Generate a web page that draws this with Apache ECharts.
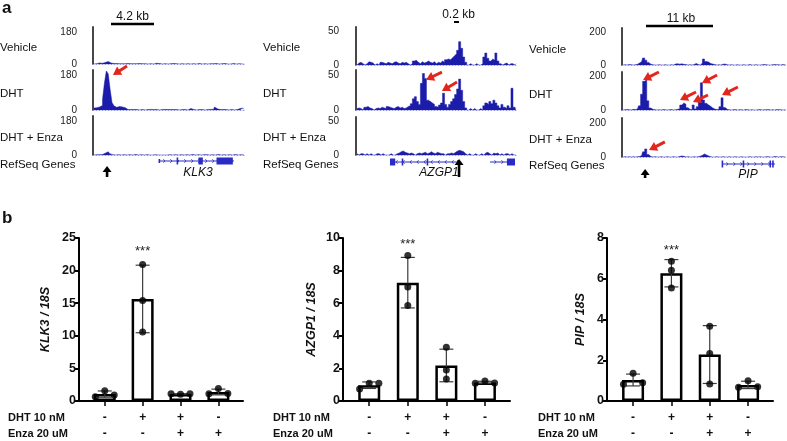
<!DOCTYPE html>
<html><head><meta charset="utf-8">
<script src="https://cdn.jsdelivr.net/npm/echarts@6/dist/echarts.min.js"></script>
<style>html,body{margin:0;padding:0;background:#fff}#c{width:787px;height:441px}</style>
</head><body><div id="c"></div>
<script>
// ---------------- DATA ----------------
// ChIP-seq coverage, 80 bins per locus (values in track units)
const klk3Vehicle = [0,2,3,6,4,3,9,14,12,6,3,2,3,2,0,2, 2,0,3,2,0,2,2,0,3,2,0,2,0,3,2,0, 0,4,3,2,0,2,3,0,2,0,3,2,2,0,2,3, 0,2,3,0,2,2,0,3,2,0,2,3,0,2,0,2, 3,2,0,2,2,3,0,2,0,3,2,0,2,2,0,0];
const klk3DHT     = [10,12,14,16,24,55,140,205,190,110,40,22,14,18,8,16, 12,4,2,3,0,2,3,2,0,3,2,0,2,4,3,2, 6,3,0,2,2,3,0,2,3,0,2,2,3,0,2,3, 2,0,4,8,3,2,0,2,3,2,0,3,2,3,0,4, 16,6,2,0,3,2,2,0,3,2,0,2,3,8,10,3];
const klk3Enza    = [0,2,0,2,3,5,10,17,14,6,2,0,0,2,0,0, 2,0,0,2,0,0,3,0,0,2,0,0,2,0,0,0, 2,2,0,0,2,0,0,3,2,0,0,2,0,0,2,0, 0,2,0,0,3,0,0,2,0,0,2,2,0,0,2,0, 0,3,0,0,2,0,0,2,0,0,3,0,0,2,0,0];

const azgp1Vehicle = [0,3,4,2,0,2,5,4,3,0,2,0,4,3,2,4, 3,2,4,5,3,2,4,3,4,2,0,2,6,7,4,2, 5,3,4,6,4,3,5,2,4,3,6,4,8,9,8,11, 14,17,22,35,25,12,4,0,2,0,0,2,0,0,2,12, 18,10,6,9,7,18,6,2,0,2,3,0,2,2,0,2];
const azgp1DHT     = [2,3,2,0,4,5,3,2,0,2,3,2,4,3,2,5, 4,3,2,4,5,3,4,2,3,5,6,9,16,19,12,8, 38,52,45,14,12,10,8,5,4,7,10,24,8,4,8,12, 16,22,30,44,28,12,3,0,2,0,2,0,0,2,0,6, 10,8,12,9,14,10,6,3,8,4,2,6,3,31,4,2];
const azgp1Enza    = [2,0,2,2,0,2,0,2,0,0,2,2,0,2,0,0, 0,2,0,0,2,3,5,6,4,3,2,3,2,0,2,3, 2,3,4,2,3,5,3,2,4,3,2,2,0,2,2,3, 2,4,6,7,6,5,2,0,2,0,0,2,0,0,2,0, 3,4,2,0,3,2,3,0,2,0,2,2,0,2,0,0];

const pipVehicle = [0,2,0,3,2,0,2,4,12,20,43,30,16,5,2,0, 0,2,0,0,2,0,0,2,0,6,8,5,7,4,3,0, 2,0,3,10,3,0,12,37,22,18,9,6,3,0,2,0, 5,6,2,0,2,0,0,2,0,0,2,0,0,3,0,0, 2,0,0,2,3,2,0,0,2,3,2,2,0,3,2,0];
const pipDHT     = [0,2,3,2,0,4,3,6,25,95,172,182,55,12,4,2, 0,2,0,3,2,0,2,3,0,2,4,8,30,42,35,14, 4,2,30,6,20,48,163,60,40,30,22,12,6,3,4,20, 73,15,4,2,0,2,3,0,2,2,0,3,2,0,2,0, 0,2,3,0,2,2,3,0,2,0,3,2,2,0,2,0];
const pipEnza    = [0,2,0,2,0,2,0,2,3,8,30,47,14,3,0,2, 0,0,2,0,0,2,0,0,2,0,0,3,6,4,0,2, 0,0,2,0,2,5,10,18,12,6,2,0,0,2,0,0, 2,0,0,2,0,0,2,0,0,2,0,0,0,2,0,0, 2,0,2,0,0,2,2,0,0,3,2,0,2,2,0,0];

const trackNames = ['Vehicle', 'DHT', 'DHT + Enza'];
const trackTicks = [180, 50, 200];
const scaleBarText = ['4.2 kb', '0.2 kb', '11 kb'];
const geneNames = ['KLK3', 'AZGP1', 'PIP'];

// gene models in bin coordinates: [start, end, kind, strand]
const klk3Gene  = [[34.7,74.2,'intron',1],[34.5,35.0,'utr',1],[44.0,44.7,'cds',1],[55.5,57.8,'cds',1],[65.0,73.6,'cds',1]];
const azgp1Gene = [[16.9,50.7,'intron',-1],[16.9,19.5,'cds',-1],[22.7,23.5,'cds',-1],[35.1,35.8,'cds',-1],[50.3,50.9,'utr',-1],[66.6,79.0,'intron',1],[75.0,79.0,'cds',1]];
const pipGene   = [[48.5,74.2,'intron',1],[48.3,48.8,'cds',1],[58.5,59.0,'cds',1],[71.5,72.0,'cds',1],[72.8,73.4,'cds',1]];
const tssBins = [7.4, 51.2, 11.2];

// red arrows: [column, track, tailBin, tailValue, headBin, headValue]
const redArrows = [
  [0,1,17.9,231,10.5,184],
  [1,1,42.7,54,34.8,43],
  [1,1,50.2,40,42.7,27],
  [2,1,17.9,228,10.2,180],
  [2,1,46.1,210,38.8,162],
  [2,1,35.9,108,28.1,60],
  [2,1,41.7,90,34.4,48],
  [2,1,56.2,138,48.5,90],
  [2,2,20.8,88,13.1,41]
];

// qPCR panel b
const dhtSigns  = ['-', '+', '+', '-'];
const enzaSigns = ['-', '-', '+', '+'];
const klk3Mean = [1.06, 15.65, 1.08, 1.38];
const klk3Sd   = [0.48, 5.18, 0.03, 0.44];
const klk3Reps = [[0.67,1.59,0.92],[20.95,15.4,10.6],[1.1,1.05,1.1],[1.1,1.9,1.15]];
const klk3Jit  = [[-1,0,1],[0,0,0],[-1,0,1],[-1,0,1]];
const azgp1Mean = [0.97, 7.26, 2.18, 1.14];
const azgp1Sd   = [0.2, 1.55, 1.0, 0.07];
const azgp1Reps = [[0.74,1.09,1.09],[8.93,7.0,5.86],[3.3,1.9,1.35],[1.09,1.23,1.11]];
const azgp1Jit  = [[-1,0,1],[0,0,0],[0,0,0],[-1,0,1]];
const pipMean = [1.03, 6.27, 2.28, 0.79];
const pipSd   = [0.29, 0.67, 1.42, 0.18];
const pipReps = [[0.82,1.36,0.9],[6.86,6.42,5.54],[3.67,2.33,0.83],[0.67,0.99,0.7]];
const pipJit  = [[-1,0,1],[0,0,0],[0,0,0],[-1,0,1]];
const yMax = [25, 10, 8];
const yInterval = [5, 2, 2];
const starLevel = [23, 9.6, 7.4];

// ---------------- LAYOUT / STYLE ----------------
const FONT = "'Liberation Sans', Arial, sans-serif";
const BLUE = '#1c1cab';
const GENE_BLUE = '#2a2ac4';
const RED = '#e3261c';

const cols = [
  {left:93,  width:152, axisX:82,  max:210, rows:[[27,37],[70,40],[116,39]], data:[klk3Vehicle,klk3DHT,klk3Enza], gene:klk3Gene, gy:6, tssY:[11,22], labX:0,   labY:[48,94,138,165]},
  {left:356, width:161, axisX:344, max:57,  rows:[[27,38],[70,40],[117,38]], data:[azgp1Vehicle,azgp1DHT,azgp1Enza], gene:azgp1Gene, gy:7, tssY:[4,22], labX:263, labY:[48,94,138,165]},
  {left:622, width:165, axisX:611, max:228, rows:[[28,37],[72,38],[118,39]], data:[pipVehicle,pipDHT,pipEnza], gene:pipGene, gy:9, tssY:[14,23], labX:529, labY:[50,95,140,166]}
];

const option = {animation:false, grid:[], xAxis:[], yAxis:[], series:[], graphic:[]};
let ax = 0;
function addGrid(g, x, y){
  g.outerBoundsMode = 'none';
  option.grid.push(g);
  x.gridIndex = ax; y.gridIndex = ax;
  option.xAxis.push(x); option.yAxis.push(y);
  return ax++;
}
function text(x, y, str, font, align, color){
  option.graphic.push({type:'text', x:x, y:y, silent:true,
    style:{text:str, font:font, fill:color||'#111', align:align||'left', verticalAlign:'middle', textAlign:align||'left', textVerticalAlign:'middle'}});
}
function hline(x1, x2, y, w){
  option.graphic.push({type:'line', silent:true, shape:{x1:x1,y1:y,x2:x2,y2:y}, style:{stroke:'#000', lineWidth:w}});
}

const NBINS = 80;
cols.forEach((c, ci) => {
  c.rows.forEach((r, ri) => {
    const idx = addGrid({left:c.left, top:r[0], width:c.width, height:r[1]},
      {type:'value', min:0, max:NBINS, axisLine:{show:true, lineStyle:{color:'#9a9ae0', width:1, type:[1,2]}}, axisTick:{show:false}, axisLabel:{show:false}, splitLine:{show:false}},
      {type:'value', min:0, max:c.max, offset:c.left - c.axisX,
       axisLine:{show:true, lineStyle:{color:'#333', width:1.8}}, axisTick:{show:false},
       axisLabel:{customValues:[0, trackTicks[ci]], fontSize:10, fontFamily:FONT, color:'#222', margin:5},
       splitLine:{show:false}});
    option.series.push({
      type:'line', xAxisIndex:idx, yAxisIndex:idx, silent:true,
      data:c.data[ri].map((v,i) => [i+0.5, v]),
      step:'middle', symbol:'none',
      lineStyle:{width:0.5, color:BLUE}, areaStyle:{color:BLUE, opacity:1}
    });
    const arrows = redArrows.filter(a => a[0] === ci && a[1] === ri);
    if (arrows.length) {
      option.series.push({
        type:'custom', xAxisIndex:idx, yAxisIndex:idx, silent:true, clip:false, z:5,
        data:arrows.map(a => [a[2], a[3], a[4], a[5]]),
        renderItem:function(params, api){
          const t = api.coord([api.value(0), api.value(1)]), h = api.coord([api.value(2), api.value(3)]);
          const dx = h[0]-t[0], dy = h[1]-t[1], L = Math.sqrt(dx*dx+dy*dy);
          const ux = dx/L, uy = dy/L, HL = 8, HW = 4.8;
          const bx = h[0]-ux*HL, by = h[1]-uy*HL;
          return {type:'group', children:[
            {type:'line', shape:{x1:t[0], y1:t[1], x2:bx+ux, y2:by+uy}, style:{stroke:RED, lineWidth:3}},
            {type:'polygon', shape:{points:[[h[0],h[1]],[bx-uy*HW, by+ux*HW],[bx+uy*HW, by-ux*HW]]}, style:{fill:RED}}
          ]};
        }
      });
    }
    text(c.labX, c.labY[ri], trackNames[ri], '11.5px ' + FONT);
  });
  text(c.labX, c.labY[3], 'RefSeq Genes', '11.5px ' + FONT);

  // gene track
  const gi = addGrid({left:c.left, top:155, width:c.width, height:28},
    {type:'value', min:0, max:NBINS, show:false},
    {type:'value', min:0, max:28, inverse:true, show:false});
  const gy = c.gy;
  option.series.push({
    type:'custom', xAxisIndex:gi, yAxisIndex:gi, silent:true, clip:false,
    data:c.gene.map(g => [g[0], g[1], g[2]==='intron'?0:(g[2]==='cds'?1:2), g[3]]),
    renderItem:function(params, api){
      const s = api.value(0), e = api.value(1), t = api.value(2), st = api.value(3);
      const a = api.coord([s, gy]), b = api.coord([e, gy]);
      if (t === 0) {
        const ch = [{type:'line', shape:{x1:a[0],y1:a[1],x2:b[0],y2:b[1]}, style:{stroke:GENE_BLUE, lineWidth:1}}];
        for (let x = a[0] + 6; x < b[0] - 4; x += 7) {
          const d = st > 0 ? -1.6 : 1.6;
          ch.push({type:'polyline', shape:{points:[[x+d, a[1]-1.8],[x, a[1]],[x+d, a[1]+1.8]]}, style:{stroke:GENE_BLUE, lineWidth:0.8, fill:null}});
        }
        return {type:'group', children:ch};
      }
      const h = t === 1 ? 7 : 4;
      return {type:'rect', shape:{x:a[0], y:a[1]-h/2, width:Math.max(b[0]-a[0], 1.6), height:h}, style:{fill:GENE_BLUE}};
    }
  });
  const ty = c.tssY;
  option.series.push({
    type:'custom', xAxisIndex:gi, yAxisIndex:gi, silent:true, clip:false,
    data:[[tssBins[ci]]],
    renderItem:function(params, api){
      const p = api.coord([api.value(0), ty[0]]), q = api.coord([api.value(0), ty[1]]);
      const x = p[0], top = p[1], bot = q[1];
      return {type:'group', children:[
        {type:'polygon', shape:{points:[[x-4.5, top+6],[x, top],[x+4.5, top+6]]}, style:{fill:'#000'}},
        {type:'rect', shape:{x:x-1.3, y:top+5, width:2.6, height:bot-top-5}, style:{fill:'#000'}}
      ]};
    }
  });
});

// scale bars and gene names
hline(111, 154, 24, 2.5); text(132.5, 17, scaleBarText[0], '12px ' + FONT, 'center');
hline(454, 459, 22, 2); text(458.5, 15, scaleBarText[1], '12px ' + FONT, 'center');
hline(646, 713, 26, 2.5); text(681, 19, scaleBarText[2], '12px ' + FONT, 'center');
text(198, 173, geneNames[0], 'italic 12px ' + FONT, 'center');
text(439, 173, geneNames[1], 'italic 12px ' + FONT, 'center');
text(748, 175, geneNames[2], 'italic 12px ' + FONT, 'center');
text(2, 8, 'a', 'bold 17px ' + FONT);
text(2, 218, 'b', 'bold 17px ' + FONT);

// ---------------- PANEL b ----------------
const bars = [
  {left:79,  width:164, gap:27, name:'KLK3 / 18S',  mean:klk3Mean,  sd:klk3Sd,  reps:klk3Reps,  jit:klk3Jit,  labX:8},
  {left:343, width:167, gap:25, name:'AZGP1 / 18S', mean:azgp1Mean, sd:azgp1Sd, reps:azgp1Reps, jit:azgp1Jit, labX:273},
  {left:607, width:166, gap:20, name:'PIP / 18S',   mean:pipMean,   sd:pipSd,   reps:pipReps,   jit:pipJit,   labX:538}
];
bars.forEach((b, bi) => {
  const idx = addGrid({left:b.left, top:238, width:b.width, height:163},
    {type:'value', min:0.32, max:4.65,
     axisLine:{show:true, onZero:false, lineStyle:{color:'#000', width:2}},
     axisTick:{show:true, customValues:[1,2,3,4], length:5, lineStyle:{color:'#000', width:1.5}},
     axisLabel:{customValues:[1,2,3,4], formatter:v => dhtSigns[Math.round(v)-1] + '\n' + enzaSigns[Math.round(v)-1],
       fontSize:12, fontWeight:'bold', fontFamily:FONT, color:'#111', lineHeight:16, margin:9},
     splitLine:{show:false}},
    {type:'value', min:0, max:yMax[bi], interval:yInterval[bi],
     axisLine:{show:true, lineStyle:{color:'#000', width:2}},
     axisTick:{show:true, length:4, lineStyle:{color:'#000', width:2}},
     axisLabel:{fontSize:12.5, fontWeight:'bold', fontFamily:FONT, color:'#111', margin:3},
     splitLine:{show:false},
     name:b.name, nameLocation:'middle', nameGap:b.gap,
     nameTextStyle:{fontSize:12.5, fontWeight:'bold', fontStyle:'italic', fontFamily:FONT, color:'#111'}});
  option.series.push({
    type:'bar', xAxisIndex:idx, yAxisIndex:idx, silent:true, barWidth:22,
    data:b.mean.map((m,i) => [i+1, m]),
    itemStyle:{color:'#fff', borderColor:'#000', borderWidth:2.5}
  });
  option.series.push({
    type:'custom', xAxisIndex:idx, yAxisIndex:idx, silent:true, z:3,
    data:b.mean.map((m,i) => [i+1, m - b.sd[i], m + b.sd[i]]),
    renderItem:function(params, api){
      const lo = api.coord([api.value(0), api.value(1)]), hi = api.coord([api.value(0), api.value(2)]);
      const st = {stroke:'#3c3c3c', lineWidth:1.2};
      return {type:'group', children:[
        {type:'line', shape:{x1:lo[0], y1:lo[1], x2:hi[0], y2:hi[1]}, style:st},
        {type:'line', shape:{x1:hi[0]-7, y1:hi[1], x2:hi[0]+7, y2:hi[1]}, style:st},
        {type:'line', shape:{x1:lo[0]-7, y1:lo[1], x2:lo[0]+7, y2:lo[1]}, style:st}
      ]};
    }
  });
  const pts = [];
  b.reps.forEach((g, i) => g.forEach((v, j) => pts.push([i + 1 + b.jit[i][j] * 0.25, v])));
  option.series.push({
    type:'scatter', xAxisIndex:idx, yAxisIndex:idx, silent:true, z:4,
    data:pts, symbol:'circle', symbolSize:7, itemStyle:{color:'#000'}
  });
  option.series.push({
    type:'custom', xAxisIndex:idx, yAxisIndex:idx, silent:true, z:4, clip:false,
    data:[[2, starLevel[bi]]],
    renderItem:function(params, api){
      const p = api.coord([api.value(0), api.value(1)]);
      return {type:'text', x:p[0], y:p[1], style:{text:'***', font:'13px ' + FONT, fill:'#222', align:'center', verticalAlign:'middle'}};
    }
  });
  text(b.labX, 418, 'DHT 10 nM', 'bold 11px ' + FONT);
  text(b.labX, 434, 'Enza 20 uM', 'bold 11px ' + FONT);
});

const chart = echarts.init(document.getElementById('c'), null, {renderer:'canvas'});
chart.setOption(option);
</script></body></html>
